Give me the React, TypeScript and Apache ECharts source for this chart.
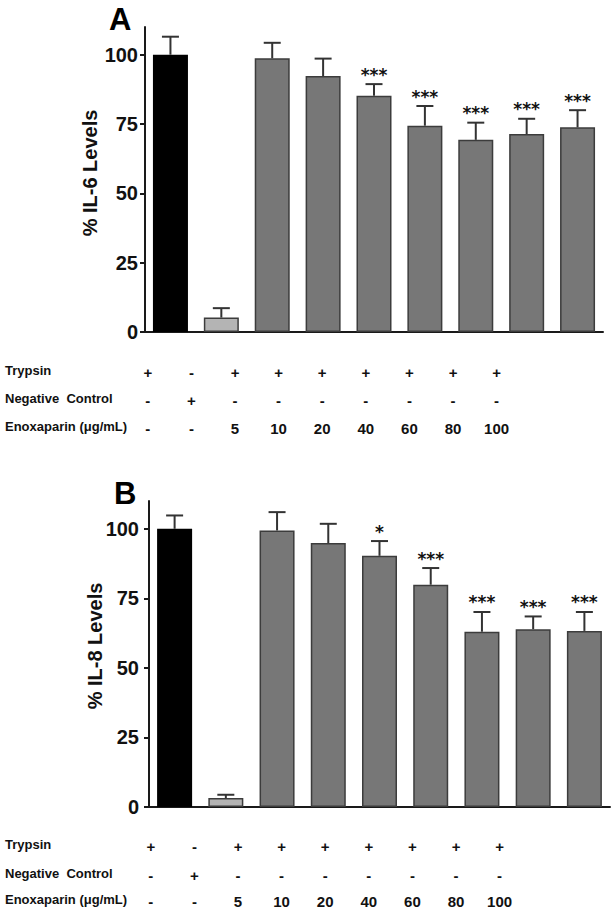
import { useEffect, useRef } from 'react';
import * as echarts from 'echarts';

const categories = ['ctrl', 'neg', '5', '10', '20', '40', '60', '80', '100'];
const barColors = ['#000000', '#b4b4b4', '#777777', '#777777', '#777777', '#777777', '#777777', '#777777', '#777777'];

const il6Values = [100, 5.2, 98.7, 92.3, 85.2, 74.4, 69.3, 71.4, 73.8];
const il6Errors = [6.5, 3.4, 5.6, 6.3, 4.2, 7.1, 6.2, 5.5, 6.2];
const il6Stars = ['', '', '', '', '***', '***', '***', '***', '***'];

const il8Values = [100, 3.2, 99.4, 94.9, 90.3, 79.9, 63.0, 63.9, 63.3];
const il8Errors = [4.8, 1.2, 6.6, 6.9, 5.3, 6.0, 7.1, 4.6, 6.8];
const il8Stars = ['', '', '', '', '*', '***', '***', '***', '***'];

const yTicks = [0, 25, 50, 75, 100];

const rowNames = ['Trypsin', 'Negative  Control', 'Enoxaparin (\u03bcg/mL)'];
const trypsinRow = ['+', '-', '+', '+', '+', '+', '+', '+', '+'];
const negativeRow = ['-', '+', '-', '-', '-', '-', '-', '-', '-'];
const enoxaparinRow = ['-', '-', '5', '10', '20', '40', '60', '80', '100'];

const FONT = '"Liberation Sans", Arial, sans-serif';
const AXIS_COLOR = '#1a1a1a';

// panel geometry: grid box, y-axis title position, letter position, table rows
const panels = [
  { left: 145, right: 8, top: 27, bottom: 581, labelMargin: 7, title: '% IL-6 Levels', titleX: 90, titleY: 173, letter: 'A', letterX: 109, letterY: 4, tableLeft: 126, rows: [372, 400, 428] },
  { left: 149, right: 1, top: 501, bottom: 106, labelMargin: 10, title: '% IL-8 Levels', titleX: 95, titleY: 646, letter: 'B', letterX: 114, letterY: 478, tableLeft: 129, rows: [846, 875, 901] },
];

const valuesByPanel = [il6Values, il8Values];
const errorsByPanel = [il6Errors, il8Errors];
const starsByPanel = [il6Stars, il8Stars];
const tableRows = [trypsinRow, negativeRow, enoxaparinRow];

export default function App() {
  const chartRef = useRef<HTMLDivElement>(null);
  useEffect(() => {
    if (!chartRef.current) return;
    const chart = echarts.init(chartRef.current, undefined, { renderer: 'svg' });

    const grid: any[] = [];
    const xAxis: any[] = [];
    const yAxis: any[] = [];
    const series: any[] = [];
    const graphic: any[] = [];

    panels.forEach((p, pi) => {
      const gi = grid.length;
      grid.push({ left: p.left, right: p.right, top: p.top, bottom: p.bottom });
      const xi = xAxis.length;
      xAxis.push({
        type: 'category',
        gridIndex: gi,
        data: categories,
        axisLine: { lineStyle: { color: AXIS_COLOR, width: 2 } },
        axisTick: { show: false },
        axisLabel: { show: false },
      });
      const yi = yAxis.length;
      yAxis.push({
        type: 'value',
        gridIndex: gi,
        min: 0,
        max: 110,
        splitLine: { show: false },
        axisLine: { show: true, lineStyle: { color: AXIS_COLOR, width: 2 } },
        axisTick: { show: true, length: 5, lineStyle: { color: AXIS_COLOR, width: 2 }, customValues: yTicks },
        axisLabel: {
          customValues: yTicks,
          margin: p.labelMargin,
          fontSize: 20,
          fontWeight: 'bold',
          fontFamily: FONT,
          color: '#111',
        },
      });
      const values = valuesByPanel[pi];
      const errors = errorsByPanel[pi];
      const stars = starsByPanel[pi];
      series.push({
        type: 'bar',
        xAxisIndex: xi,
        yAxisIndex: yi,
        barWidth: 35,
        data: values.map((v, i) => ({
          value: v,
          itemStyle: { color: barColors[i], borderColor: i === 0 ? '#000' : '#3c3c3c', borderWidth: 1.5 },
        })),
        z: 2,
      });
      series.push({
        type: 'custom',
        xAxisIndex: xi,
        yAxisIndex: yi,
        data: values.map((v, i) => [i, v, errors[i]]),
        z: 3,
        renderItem: (params: any, api: any) => {
          const idx = api.value(0);
          const v = api.value(1);
          const e = api.value(2);
          const base = api.coord([idx, v]);
          const tip = api.coord([idx, v + e]);
          const half = 8.5;
          const lineStyle = { stroke: '#333', lineWidth: 2 };
          const children: any[] = [
            { type: 'line', shape: { x1: base[0], y1: base[1], x2: tip[0], y2: tip[1] }, style: lineStyle },
            { type: 'line', shape: { x1: tip[0] - half, y1: tip[1], x2: tip[0] + half, y2: tip[1] }, style: lineStyle },
          ];
          const s = stars[params.dataIndex];
          if (s) {
            children.push({
              type: 'text',
              x: tip[0],
              y: tip[1] - 1,
              style: { text: s, align: 'center', verticalAlign: 'bottom', fontSize: 17, fontWeight: 'bold', fontFamily: '"DejaVu Sans", sans-serif', fill: '#111' },
            });
          }
          return { type: 'group', children };
        },
      });

      // condition table beneath the panel: one thin grid per row
      tableRows.forEach((row, ri) => {
        const tgi = grid.length;
        grid.push({ left: p.tableLeft, width: 9 * 43.6, top: p.rows[ri] - 1, height: 1 });
        xAxis.push({
          type: 'category',
          gridIndex: tgi,
          data: row,
          axisLine: { show: false },
          axisTick: { show: false },
          axisLabel: {
            interval: 0,
            margin: 0,
            verticalAlign: 'middle',
            fontSize: 15,
            fontWeight: 'bold',
            fontFamily: FONT,
            color: '#111',
          },
        });
        yAxis.push({ type: 'value', gridIndex: tgi, show: false });
        graphic.push({
          type: 'text',
          left: 5,
          top: p.rows[ri] - 8,
          style: { text: rowNames[ri], fontSize: 13, fontWeight: 'bold', fontFamily: FONT, fill: '#111' },
        });
      });

      graphic.push({
        type: 'text',
        x: p.titleX,
        y: p.titleY,
        rotation: Math.PI / 2,
        style: { text: p.title, align: 'center', verticalAlign: 'middle', fontSize: 20, fontWeight: 'bold', fontFamily: FONT, fill: '#111' },
      });
      graphic.push({
        type: 'text',
        left: p.letterX,
        top: p.letterY,
        style: { text: p.letter, fontSize: 31, fontWeight: 'bold', fontFamily: FONT, fill: '#000' },
      });
    });

    chart.setOption({
      animation: false,
      backgroundColor: '#ffffff',
      grid,
      xAxis,
      yAxis,
      series,
      graphic,
    });
    return () => chart.dispose();
  }, []);
  return (
    <div
      ref={chartRef}
      style={{ position: 'fixed', left: 0, top: 0, width: 611, height: 913, background: '#fff' }}
    />
  );
}
